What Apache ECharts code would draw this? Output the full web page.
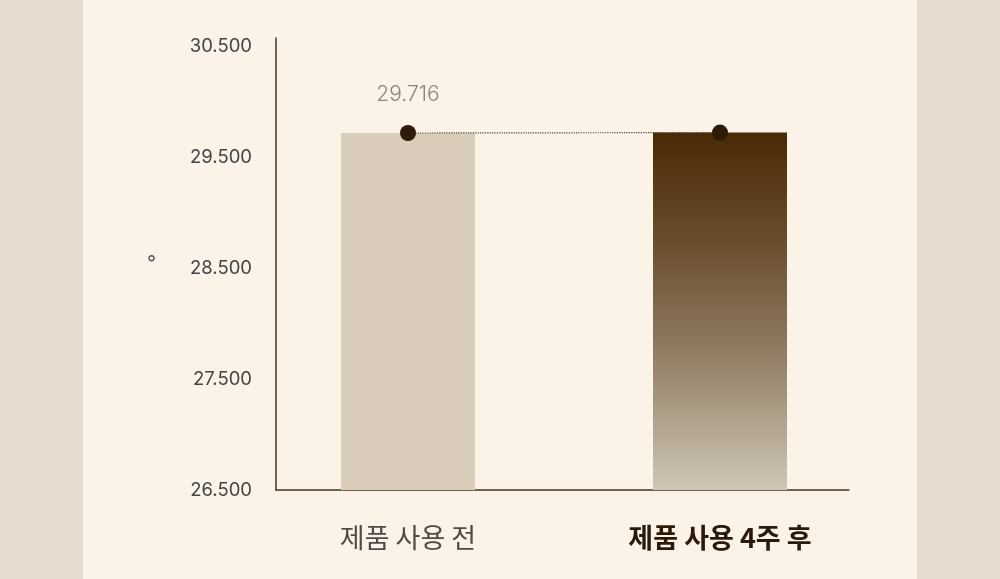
<!DOCTYPE html>
<html>
<head>
<meta charset="utf-8">
<script src="https://cdn.jsdelivr.net/npm/echarts@6/dist/echarts.min.js"></script>
<style>
  html, body { margin: 0; padding: 0; background: #e6dccd; }
  #wrap { position: relative; width: 1000px; height: 579px; }
  #panel { position: absolute; left: 83px; top: 0; width: 834px; height: 579px; background: #fbf3e7; }
  #chart { position: absolute; left: 0; top: 0; width: 1000px; height: 579px; }
</style>
</head>
<body>
<div id="wrap">
  <div id="panel"></div>
  <div id="chart"></div>
</div>
<script>
var categories = ['제품 사용 전', '제품 사용 4주 후'];
var values = [29.716, 29.72];
var yMin = 26.5;
var yMax = 30.572;
var yStep = 1;
var yUnit = '°';

var chart = echarts.init(document.getElementById('chart'));
var font = '"Noto Sans CJK KR", "Noto Sans", sans-serif';
var numFont = 'Inter, "Noto Sans", sans-serif';

var option = {
    animation: false,
    grid: [
        { left: 276, right: 151, top: 38, bottom: 89 },
        { left: 252, right: 124, top: 38, bottom: 89 }
    ],
    xAxis: [
        {
            gridIndex: 0,
            type: 'category',
            data: categories,
            axisLine: { lineStyle: { color: '#4a3521', width: 1.5 } },
            axisTick: { show: false },
            axisLabel: { show: false }
        },
        {
            gridIndex: 1,
            type: 'category',
            data: categories,
            axisLine: { show: false },
            axisTick: { show: false },
            axisLabel: {
                margin: 34,
                fontFamily: font,
                fontSize: 27,
                formatter: function (v, i) {
                    return i === 1 ? '{b|' + v + '}' : '{n|' + v + '}';
                },
                rich: {
                    n: { fontFamily: font, fontSize: 27, color: '#4f4b47' },
                    b: { fontFamily: font, fontSize: 27, fontWeight: 'bold', color: '#2b1a09' }
                }
            }
        }
    ],
    yAxis: [
        {
            gridIndex: 0,
            type: 'value',
            min: yMin,
            max: yMax,
            interval: yStep,
            name: yUnit,
            nameLocation: 'middle',
            nameRotate: 0,
            nameGap: 120,
            nameTextStyle: { color: '#555', fontSize: 20, fontFamily: numFont },
            axisLine: { show: true, lineStyle: { color: '#4a3521', width: 1.5 } },
            axisTick: { show: false },
            splitLine: { show: false },
            axisLabel: {
                showMaxLabel: false,
                margin: 24,
                color: '#444',
                fontSize: 18.5,
                fontFamily: numFont,
                formatter: function (v) { return v.toFixed(3); }
            }
        },
        {
            gridIndex: 1,
            type: 'value',
            min: yMin,
            max: yMax,
            interval: yStep,
            show: false,
            splitLine: { show: false }
        }
    ],
    series: [
        {
            type: 'bar',
            xAxisIndex: 1,
            yAxisIndex: 1,
            barWidth: 134,
            data: [
                { value: values[0], itemStyle: { color: '#d9ccba' } },
                {
                    value: values[1],
                    itemStyle: {
                        color: new echarts.graphic.LinearGradient(0, 0, 0, 1, [
                            { offset: 0, color: '#4a2905' },
                            { offset: 0.3, color: '#6a4c2c' },
                            { offset: 0.6, color: '#8e7a60' },
                            { offset: 1, color: '#cfc7b6' }
                        ])
                    }
                }
            ]
        },
        {
            type: 'line',
            xAxisIndex: 1,
            yAxisIndex: 1,
            data: values,
            symbol: 'circle',
            symbolSize: 16,
            itemStyle: { color: '#2d1a08' },
            lineStyle: { color: '#4f4740', width: 1.2, type: 'dotted' },
            label: {
                show: true,
                position: 'top',
                distance: 20,
                color: '#8a8580',
                fontSize: 21,
                fontWeight: 300,
                fontFamily: numFont,
                formatter: function (p) { return p.dataIndex === 0 ? p.value.toFixed(3) : ''; }
            },
            z: 5
        }
    ]
};

chart.setOption(option);
</script>
</body>
</html>
